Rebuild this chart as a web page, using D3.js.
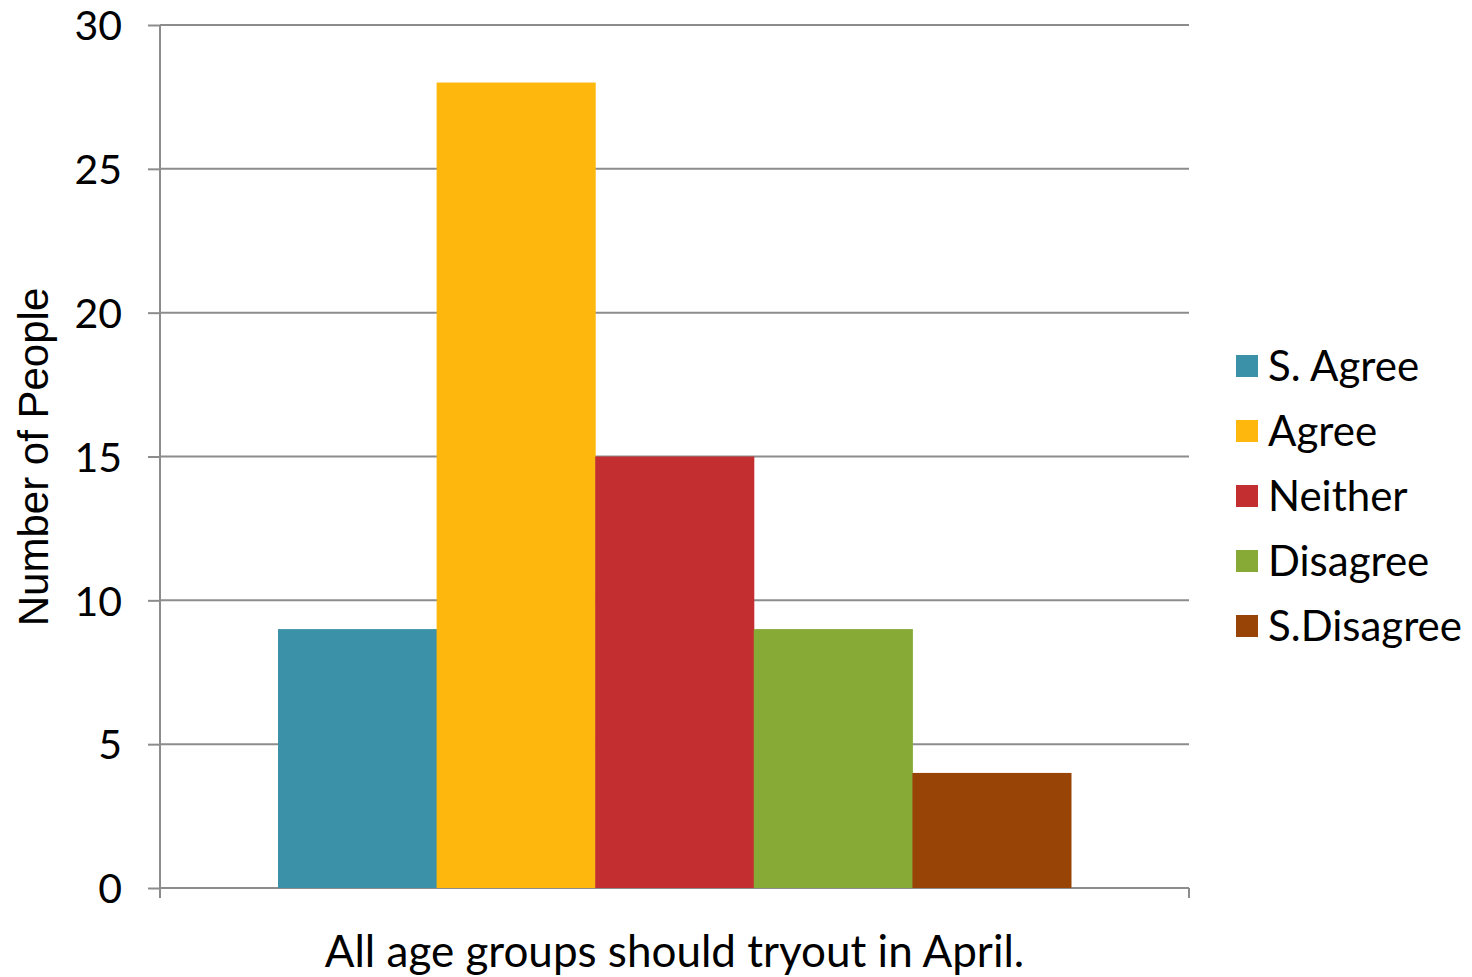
<!DOCTYPE html>
<html><head><meta charset="utf-8">
<script src="https://cdn.jsdelivr.net/npm/d3@7"></script>
<style>html,body{margin:0;padding:0;background:#fff;}svg{display:block;}</style>
</head><body>
<svg id="chart" width="1472" height="977"></svg>
<script>
const categories = ["All age groups should tryout in April."];
const seriesNames = ["S. Agree", "Agree", "Neither", "Disagree", "S.Disagree"];
const seriesValues = [9, 28, 15, 9, 4];
const seriesColors = ["#3A91A8", "#FDB70D", "#C32E31", "#86AA35", "#984406"];
const yTicks = [0, 5, 10, 15, 20, 25, 30];
const yTitle = "Number of People";

const svg = d3.select("#chart");
const m = {left: 160, right: 1189, top: 25, bottom: 888};
const font = "Lato, 'Open Sans', sans-serif";
const grid = "#8c8c8c";

const y = d3.scaleLinear().domain([0, 30]).range([m.bottom, m.top]);
const x0 = d3.scaleBand().domain(categories).range([m.left, m.right]).paddingInner(0).paddingOuter(0.1488);
const x1 = d3.scaleBand().domain(seriesNames).range([0, x0.bandwidth()]).padding(0);

// gridlines
svg.append("g").selectAll("line").data(yTicks).join("line")
  .attr("x1", m.left).attr("x2", m.right)
  .attr("y1", d => y(d)).attr("y2", d => y(d))
  .attr("stroke", grid).attr("stroke-width", 2);

// bars
const data = seriesNames.map((s, i) => ({s, v: seriesValues[i], c: seriesColors[i]}));
svg.append("g").selectAll("rect").data(data).join("rect")
  .attr("x", d => x0(categories[0]) + x1(d.s))
  .attr("width", x1.bandwidth() + 0.5)
  .attr("y", d => y(d.v))
  .attr("height", d => y(0) - y(d.v))
  .attr("fill", d => d.c);

// y axis
const yAxis = d3.axisLeft(y).tickValues(yTicks).tickSize(12).tickPadding(26);
const ya = svg.append("g").attr("transform", `translate(${m.left},0)`).call(yAxis);
ya.select(".domain").remove();
ya.selectAll(".tick line").attr("stroke", grid).attr("stroke-width", 2);
ya.selectAll(".tick text").attr("font-family", font).attr("font-size", 41).attr("fill", "#000").attr("dy", "0.36em");
svg.append("line").attr("x1", m.left).attr("x2", m.left).attr("y1", m.top).attr("y2", m.bottom + 10)
  .attr("stroke", grid).attr("stroke-width", 2);

// x axis
const xAxis = d3.axisBottom(x0).tickSize(0).tickPadding(0);
const xa = svg.append("g").attr("transform", `translate(0,${m.bottom})`).call(xAxis);
xa.select(".domain").remove();
xa.selectAll(".tick text").attr("font-family", font).attr("font-size", 44).attr("fill", "#000")
  .attr("dy", null).attr("y", 79);
svg.selectAll(".xedge").data([m.left, m.right]).join("line")
  .attr("x1", d => d).attr("x2", d => d).attr("y1", m.bottom).attr("y2", m.bottom + 10)
  .attr("stroke", grid).attr("stroke-width", 2);

// y title
svg.append("text").attr("transform", "translate(48,457) rotate(-90)")
  .attr("text-anchor", "middle").attr("font-family", "'Liberation Sans', Arial, sans-serif")
  .attr("font-size", 42).attr("fill", "#000").text(yTitle);

// legend
const lg = svg.append("g").attr("transform", "translate(1236,366)");
const li = lg.selectAll("g").data(data).join("g").attr("transform", (d, i) => `translate(0,${i * 65})`);
li.append("rect").attr("x", 0).attr("y", -11).attr("width", 22).attr("height", 22).attr("fill", d => d.c);
li.append("text").attr("x", 32).attr("y", 0).attr("dy", "0.36em")
  .attr("font-family", font).attr("font-size", 42).attr("fill", "#000").text(d => d.s);
</script>
</body></html>
